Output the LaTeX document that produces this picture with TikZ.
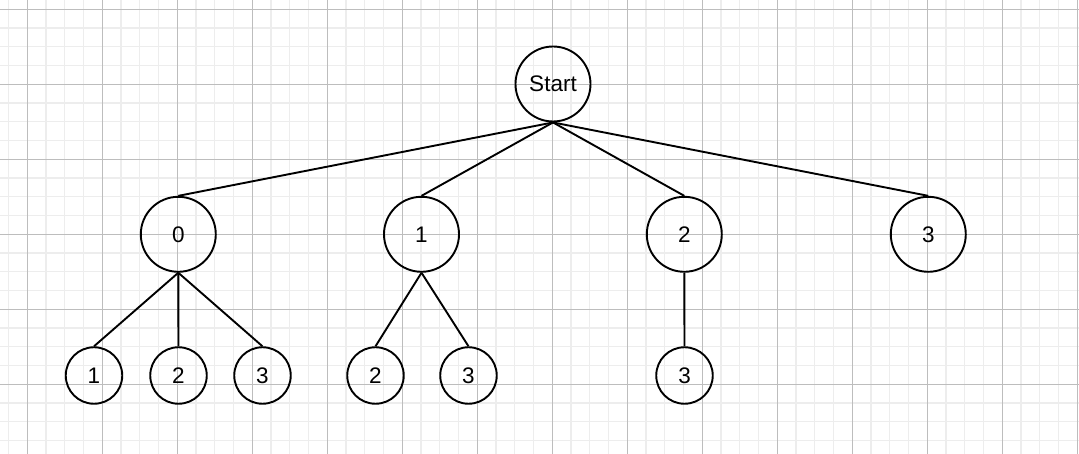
\documentclass[tikz,border=0pt]{standalone}
\usepackage{fontspec}
\setmainfont{Liberation Sans}
\definecolor{minorgrid}{HTML}{EDEDED}
\definecolor{majorgrid}{HTML}{BDBDBD}
\begin{document}
\begin{tikzpicture}[x=1pt,y=-1pt,
  big/.style={circle,draw=black,line width=1.9pt,minimum size=75pt,inner sep=0pt,font=\fontsize{22.5}{27}\selectfont},
  small/.style={circle,draw=black,line width=1.9pt,minimum size=56.5pt,inner sep=0pt,font=\fontsize{22.5}{27}\selectfont},
  edge/.style={draw=black,line width=1.9pt}]
\useasboundingbox (0,0) rectangle (1079,454);
\fill[white] (0,0) rectangle (1079,454);
% minor grid
\foreach \i in {0,...,57} {
  \draw[minorgrid,line width=1.2pt] ({8.55+18.75*\i},0) -- ({8.55+18.75*\i},454);
}
\foreach \j in {0,...,24} {
  \draw[minorgrid,line width=1.2pt] (0,{9.3+18.75*\j}) -- (1079,{9.3+18.75*\j});
}
% major grid
\foreach \i in {0,...,14} {
  \draw[majorgrid,line width=0.9pt] ({27.3+75*\i},0) -- ({27.3+75*\i},454);
}
\foreach \j in {0,...,5} {
  \draw[majorgrid,line width=0.9pt] (0,{9.3+75*\j}) -- (1079,{9.3+75*\j});
}
% nodes
\node[big] (start) at (553,84) {Start};
\node[big] (n0) at (178.3,234.3) {0};
\node[big] (n1) at (421.5,234.3) {1};
\node[big] (n2) at (684.3,234.3) {2};
\node[big] (n3) at (928.3,234.3) {3};
\node[small] (n01) at (94,375.5) {1};
\node[small] (n02) at (178.5,375.5) {2};
\node[small] (n03) at (262.5,375.5) {3};
\node[small] (n12) at (375.5,375.5) {2};
\node[small] (n13) at (468.5,375.5) {3};
\node[small] (n23) at (684.5,375.5) {3};
% edges
\foreach \c in {n0,n1,n2,n3} { \draw[edge] (start.south) -- (\c.north); }
\foreach \c in {n01,n02,n03} { \draw[edge] (n0.south) -- (\c.north); }
\foreach \c in {n12,n13} { \draw[edge] (n1.south) -- (\c.north); }
\draw[edge] (n2.south) -- (n23.north);
\end{tikzpicture}
\end{document}
